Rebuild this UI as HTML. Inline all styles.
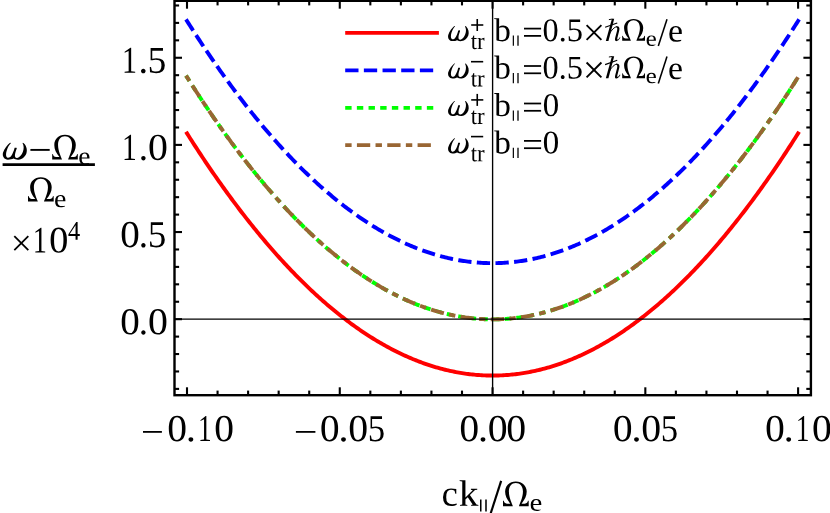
<!DOCTYPE html>
<html><head><meta charset="utf-8"><title>plot</title>
<style>
html,body{margin:0;padding:0;background:#fff;}
body{width:830px;height:513px;overflow:hidden;font-family:"Liberation Serif",serif;}
svg{display:block;}
svg text{font-family:"Liberation Serif",serif;}
</style></head><body>
<svg width="830" height="513" viewBox="0 0 830 513">
<rect width="830" height="513" fill="#fff"/>
<defs><path id="r31" d="M627 80 901 53V0H180V53L455 80V1174L184 1077V1130L575 1352H627Z"/><path id="r2e" d="M377 92Q377 43 342 7Q308 -29 256 -29Q204 -29 170 7Q135 43 135 92Q135 143 170 178Q205 213 256 213Q307 213 342 178Q377 143 377 92Z"/><path id="r35" d="M485 784Q717 784 830 689Q944 594 944 399Q944 197 821 88Q698 -20 469 -20Q279 -20 130 23L119 305H185L230 117Q274 93 336 78Q397 63 453 63Q611 63 686 138Q760 212 760 389Q760 513 728 576Q696 640 626 670Q556 700 438 700Q347 700 260 676H164V1341H844V1188H254V760Q362 784 485 784Z"/><path id="r30" d="M946 676Q946 -20 506 -20Q294 -20 186 158Q78 336 78 676Q78 1009 186 1186Q294 1362 514 1362Q726 1362 836 1188Q946 1013 946 676ZM762 676Q762 998 701 1140Q640 1282 506 1282Q376 1282 319 1148Q262 1014 262 676Q262 336 320 198Q378 59 506 59Q638 59 700 204Q762 350 762 676Z"/><path id="r63" d="M846 57Q797 21 711 0Q625 -20 535 -20Q78 -20 78 477Q78 712 194 838Q311 965 528 965Q663 965 823 934V672H768L725 838Q642 885 526 885Q258 885 258 477Q258 265 340 174Q421 84 592 84Q738 84 846 117Z"/><path id="r6b" d="M344 453 729 868 631 895V940H963V895L846 872L578 598L922 68L1024 45V0H639V45L725 70L467 475L344 340V70L444 45V0H59V45L178 70V1352L39 1376V1421H344Z"/><path id="r65" d="M260 473V455Q260 317 290 240Q321 164 384 124Q448 84 551 84Q605 84 679 93Q753 102 801 113V57Q753 26 670 3Q588 -20 502 -20Q283 -20 182 98Q80 216 80 477Q80 723 183 844Q286 965 477 965Q838 965 838 555V473ZM477 885Q373 885 318 801Q262 717 262 553H664Q664 732 618 808Q572 885 477 885Z"/><path id="r34" d="M810 295V0H638V295H40V428L695 1348H810V438H992V295ZM638 1113H633L153 438H638Z"/><path id="r74" d="M334 -20Q238 -20 190 37Q143 94 143 197V856H20V901L145 940L246 1153H309V940H524V856H309V215Q309 150 338 117Q368 84 416 84Q474 84 557 100V35Q522 11 456 -4Q390 -20 334 -20Z"/><path id="r72" d="M664 965V711H621L563 821Q513 821 444 808Q376 794 326 772V70L487 45V0H41V45L160 70V870L41 895V940H315L324 823Q384 873 486 919Q589 965 649 965Z"/><path id="r62" d="M766 496Q766 680 702 770Q638 860 504 860Q445 860 387 850Q329 839 303 827V82Q387 66 504 66Q642 66 704 174Q766 282 766 496ZM137 1352 0 1376V1421H303V1085Q303 1031 297 887Q397 965 549 965Q741 965 844 848Q946 732 946 496Q946 243 834 112Q721 -20 508 -20Q422 -20 318 -1Q215 18 137 49Z"/></defs>
<path d="M186.01,131.79 L187.00,133.36 L188.53,135.77 L190.06,138.18 L191.58,140.57 L193.11,142.95 L194.64,145.32 L196.17,147.67 L197.69,150.02 L199.22,152.35 L200.75,154.67 L202.28,156.97 L203.81,159.27 L205.33,161.55 L206.86,163.82 L208.39,166.08 L209.92,168.33 L211.44,170.56 L212.97,172.78 L214.50,174.99 L216.03,177.19 L217.56,179.38 L219.08,181.55 L220.61,183.71 L222.14,185.86 L223.67,188.00 L225.19,190.12 L226.72,192.24 L228.25,194.34 L229.78,196.43 L231.30,198.50 L232.83,200.57 L234.36,202.62 L235.89,204.66 L237.42,206.69 L238.94,208.71 L240.47,210.71 L242.00,212.70 L243.53,214.68 L245.05,216.65 L246.58,218.61 L248.11,220.55 L249.64,222.48 L251.17,224.40 L252.69,226.31 L254.22,228.20 L255.75,230.09 L257.28,231.96 L258.80,233.82 L260.33,235.66 L261.86,237.50 L263.39,239.32 L264.92,241.13 L266.44,242.93 L267.97,244.71 L269.50,246.49 L271.03,248.25 L272.55,250.00 L274.08,251.74 L275.61,253.46 L277.14,255.18 L278.66,256.88 L280.19,258.57 L281.72,260.25 L283.25,261.91 L284.78,263.56 L286.30,265.20 L287.83,266.83 L289.36,268.45 L290.89,270.05 L292.41,271.65 L293.94,273.23 L295.47,274.80 L297.00,276.35 L298.53,277.90 L300.05,279.43 L301.58,280.95 L303.11,282.45 L304.64,283.95 L306.16,285.43 L307.69,286.91 L309.22,288.36 L310.75,289.81 L312.28,291.25 L313.80,292.67 L315.33,294.08 L316.86,295.48 L318.39,296.87 L319.91,298.24 L321.44,299.60 L322.97,300.95 L324.50,302.29 L326.03,303.62 L327.55,304.93 L329.08,306.23 L330.61,307.52 L332.14,308.80 L333.66,310.07 L335.19,311.32 L336.72,312.56 L338.25,313.79 L339.77,315.01 L341.30,316.21 L342.83,317.40 L344.36,318.58 L345.89,319.75 L347.41,320.91 L348.94,322.05 L350.47,323.19 L352.00,324.31 L353.52,325.41 L355.05,326.51 L356.58,327.59 L358.11,328.67 L359.64,329.73 L361.16,330.77 L362.69,331.81 L364.22,332.83 L365.75,333.84 L367.27,334.84 L368.80,335.83 L370.33,336.80 L371.86,337.77 L373.39,338.72 L374.91,339.66 L376.44,340.58 L377.97,341.50 L379.50,342.40 L381.02,343.29 L382.55,344.17 L384.08,345.03 L385.61,345.89 L387.14,346.73 L388.66,347.56 L390.19,348.37 L391.72,349.18 L393.25,349.97 L394.77,350.75 L396.30,351.52 L397.83,352.28 L399.36,353.02 L400.88,353.76 L402.41,354.48 L403.94,355.19 L405.47,355.88 L407.00,356.57 L408.52,357.24 L410.05,357.90 L411.58,358.55 L413.11,359.18 L414.63,359.81 L416.16,360.42 L417.69,361.02 L419.22,361.60 L420.75,362.18 L422.27,362.74 L423.80,363.29 L425.33,363.83 L426.86,364.36 L428.38,364.87 L429.91,365.38 L431.44,365.87 L432.97,366.35 L434.50,366.81 L436.02,367.27 L437.55,367.71 L439.08,368.14 L440.61,368.56 L442.13,368.96 L443.66,369.36 L445.19,369.74 L446.72,370.11 L448.25,370.46 L449.77,370.81 L451.30,371.14 L452.83,371.46 L454.36,371.77 L455.88,372.07 L457.41,372.35 L458.94,372.62 L460.47,372.89 L462.00,373.13 L463.52,373.37 L465.05,373.59 L466.58,373.81 L468.11,374.01 L469.63,374.19 L471.16,374.37 L472.69,374.53 L474.22,374.68 L475.74,374.82 L477.27,374.95 L478.80,375.06 L480.33,375.17 L481.86,375.26 L483.38,375.34 L484.91,375.40 L486.44,375.46 L487.97,375.50 L489.49,375.53 L491.02,375.55 L492.55,375.56 L494.08,375.55 L495.61,375.53 L497.13,375.50 L498.66,375.46 L500.19,375.40 L501.72,375.34 L503.24,375.26 L504.77,375.17 L506.30,375.06 L507.83,374.95 L509.36,374.82 L510.88,374.68 L512.41,374.53 L513.94,374.37 L515.47,374.19 L516.99,374.01 L518.52,373.81 L520.05,373.59 L521.58,373.37 L523.11,373.13 L524.63,372.89 L526.16,372.62 L527.69,372.35 L529.22,372.07 L530.74,371.77 L532.27,371.46 L533.80,371.14 L535.33,370.81 L536.85,370.46 L538.38,370.11 L539.91,369.74 L541.44,369.36 L542.97,368.96 L544.49,368.56 L546.02,368.14 L547.55,367.71 L549.08,367.27 L550.60,366.81 L552.13,366.35 L553.66,365.87 L555.19,365.38 L556.72,364.87 L558.24,364.36 L559.77,363.83 L561.30,363.29 L562.83,362.74 L564.35,362.18 L565.88,361.60 L567.41,361.02 L568.94,360.42 L570.47,359.81 L571.99,359.18 L573.52,358.55 L575.05,357.90 L576.58,357.24 L578.10,356.57 L579.63,355.88 L581.16,355.19 L582.69,354.48 L584.22,353.76 L585.74,353.02 L587.27,352.28 L588.80,351.52 L590.33,350.75 L591.85,349.97 L593.38,349.18 L594.91,348.37 L596.44,347.56 L597.96,346.73 L599.49,345.89 L601.02,345.03 L602.55,344.17 L604.08,343.29 L605.60,342.40 L607.13,341.50 L608.66,340.58 L610.19,339.66 L611.71,338.72 L613.24,337.77 L614.77,336.80 L616.30,335.83 L617.83,334.84 L619.35,333.84 L620.88,332.83 L622.41,331.81 L623.94,330.77 L625.46,329.73 L626.99,328.67 L628.52,327.59 L630.05,326.51 L631.58,325.41 L633.10,324.31 L634.63,323.19 L636.16,322.05 L637.69,320.91 L639.21,319.75 L640.74,318.58 L642.27,317.40 L643.80,316.21 L645.33,315.01 L646.85,313.79 L648.38,312.56 L649.91,311.32 L651.44,310.07 L652.96,308.80 L654.49,307.52 L656.02,306.23 L657.55,304.93 L659.07,303.62 L660.60,302.29 L662.13,300.95 L663.66,299.60 L665.19,298.24 L666.71,296.87 L668.24,295.48 L669.77,294.08 L671.30,292.67 L672.82,291.25 L674.35,289.81 L675.88,288.36 L677.41,286.91 L678.94,285.43 L680.46,283.95 L681.99,282.45 L683.52,280.95 L685.05,279.43 L686.57,277.90 L688.10,276.35 L689.63,274.80 L691.16,273.23 L692.69,271.65 L694.21,270.05 L695.74,268.45 L697.27,266.83 L698.80,265.20 L700.32,263.56 L701.85,261.91 L703.38,260.25 L704.91,258.57 L706.44,256.88 L707.96,255.18 L709.49,253.46 L711.02,251.74 L712.55,250.00 L714.07,248.25 L715.60,246.49 L717.13,244.71 L718.66,242.93 L720.18,241.13 L721.71,239.32 L723.24,237.50 L724.77,235.66 L726.30,233.82 L727.82,231.96 L729.35,230.09 L730.88,228.20 L732.41,226.31 L733.93,224.40 L735.46,222.48 L736.99,220.55 L738.52,218.61 L740.05,216.65 L741.57,214.68 L743.10,212.70 L744.63,210.71 L746.16,208.71 L747.68,206.69 L749.21,204.66 L750.74,202.62 L752.27,200.57 L753.80,198.50 L755.32,196.43 L756.85,194.34 L758.38,192.24 L759.91,190.12 L761.43,188.00 L762.96,185.86 L764.49,183.71 L766.02,181.55 L767.55,179.38 L769.07,177.19 L770.60,174.99 L772.13,172.78 L773.66,170.56 L775.18,168.33 L776.71,166.08 L778.24,163.82 L779.77,161.55 L781.29,159.27 L782.82,156.97 L784.35,154.67 L785.88,152.35 L787.41,150.02 L788.93,147.67 L790.46,145.32 L791.99,142.95 L793.52,140.57 L795.04,138.18 L796.57,135.77 L798.10,133.36 L799.09,131.79" fill="none" stroke="#ff0000" stroke-width="3.9000000000000004" stroke-linejoin="round"/>
<path d="M186.01,19.38 L187.00,20.95 L188.53,23.36 L190.06,25.77 L191.58,28.16 L193.11,30.54 L194.64,32.91 L196.17,35.26 L197.69,37.60 L199.22,39.94 L200.75,42.26 L202.28,44.56 L203.81,46.86 L205.33,49.14 L206.86,51.41 L208.39,53.67 L209.92,55.91 L211.44,58.15 L212.97,60.37 L214.50,62.58 L216.03,64.78 L217.56,66.97 L219.08,69.14 L220.61,71.30 L222.14,73.45 L223.67,75.59 L225.19,77.71 L226.72,79.83 L228.25,81.93 L229.78,84.02 L231.30,86.09 L232.83,88.16 L234.36,90.21 L235.89,92.25 L237.42,94.28 L238.94,96.30 L240.47,98.30 L242.00,100.29 L243.53,102.27 L245.05,104.24 L246.58,106.20 L248.11,108.14 L249.64,110.07 L251.17,111.99 L252.69,113.90 L254.22,115.79 L255.75,117.68 L257.28,119.55 L258.80,121.41 L260.33,123.25 L261.86,125.09 L263.39,126.91 L264.92,128.72 L266.44,130.52 L267.97,132.30 L269.50,134.08 L271.03,135.84 L272.55,137.59 L274.08,139.33 L275.61,141.05 L277.14,142.77 L278.66,144.47 L280.19,146.16 L281.72,147.83 L283.25,149.50 L284.78,151.15 L286.30,152.79 L287.83,154.42 L289.36,156.04 L290.89,157.64 L292.41,159.24 L293.94,160.82 L295.47,162.38 L297.00,163.94 L298.53,165.48 L300.05,167.02 L301.58,168.54 L303.11,170.04 L304.64,171.54 L306.16,173.02 L307.69,174.49 L309.22,175.95 L310.75,177.40 L312.28,178.84 L313.80,180.26 L315.33,181.67 L316.86,183.07 L318.39,184.45 L319.91,185.83 L321.44,187.19 L322.97,188.54 L324.50,189.88 L326.03,191.21 L327.55,192.52 L329.08,193.82 L330.61,195.11 L332.14,196.39 L333.66,197.65 L335.19,198.91 L336.72,200.15 L338.25,201.38 L339.77,202.60 L341.30,203.80 L342.83,204.99 L344.36,206.17 L345.89,207.34 L347.41,208.50 L348.94,209.64 L350.47,210.78 L352.00,211.90 L353.52,213.00 L355.05,214.10 L356.58,215.18 L358.11,216.26 L359.64,217.31 L361.16,218.36 L362.69,219.40 L364.22,220.42 L365.75,221.43 L367.27,222.43 L368.80,223.42 L370.33,224.39 L371.86,225.36 L373.39,226.31 L374.91,227.25 L376.44,228.17 L377.97,229.09 L379.50,229.99 L381.02,230.88 L382.55,231.76 L384.08,232.62 L385.61,233.48 L387.14,234.32 L388.66,235.15 L390.19,235.96 L391.72,236.77 L393.25,237.56 L394.77,238.34 L396.30,239.11 L397.83,239.87 L399.36,240.61 L400.88,241.35 L402.41,242.07 L403.94,242.78 L405.47,243.47 L407.00,244.16 L408.52,244.83 L410.05,245.49 L411.58,246.14 L413.11,246.77 L414.63,247.40 L416.16,248.01 L417.69,248.61 L419.22,249.19 L420.75,249.77 L422.27,250.33 L423.80,250.88 L425.33,251.42 L426.86,251.95 L428.38,252.46 L429.91,252.97 L431.44,253.46 L432.97,253.94 L434.50,254.40 L436.02,254.86 L437.55,255.30 L439.08,255.73 L440.61,256.15 L442.13,256.55 L443.66,256.94 L445.19,257.33 L446.72,257.70 L448.25,258.05 L449.77,258.40 L451.30,258.73 L452.83,259.05 L454.36,259.36 L455.88,259.66 L457.41,259.94 L458.94,260.21 L460.47,260.47 L462.00,260.72 L463.52,260.96 L465.05,261.18 L466.58,261.39 L468.11,261.59 L469.63,261.78 L471.16,261.96 L472.69,262.12 L474.22,262.27 L475.74,262.41 L477.27,262.54 L478.80,262.65 L480.33,262.76 L481.86,262.85 L483.38,262.93 L484.91,262.99 L486.44,263.05 L487.97,263.09 L489.49,263.12 L491.02,263.14 L492.55,263.14 L494.08,263.14 L495.61,263.12 L497.13,263.09 L498.66,263.05 L500.19,262.99 L501.72,262.93 L503.24,262.85 L504.77,262.76 L506.30,262.65 L507.83,262.54 L509.36,262.41 L510.88,262.27 L512.41,262.12 L513.94,261.96 L515.47,261.78 L516.99,261.59 L518.52,261.39 L520.05,261.18 L521.58,260.96 L523.11,260.72 L524.63,260.47 L526.16,260.21 L527.69,259.94 L529.22,259.66 L530.74,259.36 L532.27,259.05 L533.80,258.73 L535.33,258.40 L536.85,258.05 L538.38,257.70 L539.91,257.33 L541.44,256.94 L542.97,256.55 L544.49,256.15 L546.02,255.73 L547.55,255.30 L549.08,254.86 L550.60,254.40 L552.13,253.94 L553.66,253.46 L555.19,252.97 L556.72,252.46 L558.24,251.95 L559.77,251.42 L561.30,250.88 L562.83,250.33 L564.35,249.77 L565.88,249.19 L567.41,248.61 L568.94,248.01 L570.47,247.40 L571.99,246.77 L573.52,246.14 L575.05,245.49 L576.58,244.83 L578.10,244.16 L579.63,243.47 L581.16,242.78 L582.69,242.07 L584.22,241.35 L585.74,240.61 L587.27,239.87 L588.80,239.11 L590.33,238.34 L591.85,237.56 L593.38,236.77 L594.91,235.96 L596.44,235.15 L597.96,234.32 L599.49,233.48 L601.02,232.62 L602.55,231.76 L604.08,230.88 L605.60,229.99 L607.13,229.09 L608.66,228.17 L610.19,227.25 L611.71,226.31 L613.24,225.36 L614.77,224.39 L616.30,223.42 L617.83,222.43 L619.35,221.43 L620.88,220.42 L622.41,219.40 L623.94,218.36 L625.46,217.31 L626.99,216.26 L628.52,215.18 L630.05,214.10 L631.58,213.00 L633.10,211.90 L634.63,210.78 L636.16,209.64 L637.69,208.50 L639.21,207.34 L640.74,206.17 L642.27,204.99 L643.80,203.80 L645.33,202.60 L646.85,201.38 L648.38,200.15 L649.91,198.91 L651.44,197.65 L652.96,196.39 L654.49,195.11 L656.02,193.82 L657.55,192.52 L659.07,191.21 L660.60,189.88 L662.13,188.54 L663.66,187.19 L665.19,185.83 L666.71,184.45 L668.24,183.07 L669.77,181.67 L671.30,180.26 L672.82,178.84 L674.35,177.40 L675.88,175.95 L677.41,174.49 L678.94,173.02 L680.46,171.54 L681.99,170.04 L683.52,168.54 L685.05,167.02 L686.57,165.48 L688.10,163.94 L689.63,162.38 L691.16,160.82 L692.69,159.24 L694.21,157.64 L695.74,156.04 L697.27,154.42 L698.80,152.79 L700.32,151.15 L701.85,149.50 L703.38,147.83 L704.91,146.16 L706.44,144.47 L707.96,142.77 L709.49,141.05 L711.02,139.33 L712.55,137.59 L714.07,135.84 L715.60,134.08 L717.13,132.30 L718.66,130.52 L720.18,128.72 L721.71,126.91 L723.24,125.09 L724.77,123.25 L726.30,121.41 L727.82,119.55 L729.35,117.68 L730.88,115.79 L732.41,113.90 L733.93,111.99 L735.46,110.07 L736.99,108.14 L738.52,106.20 L740.05,104.24 L741.57,102.27 L743.10,100.29 L744.63,98.30 L746.16,96.30 L747.68,94.28 L749.21,92.25 L750.74,90.21 L752.27,88.16 L753.80,86.09 L755.32,84.02 L756.85,81.93 L758.38,79.83 L759.91,77.71 L761.43,75.59 L762.96,73.45 L764.49,71.30 L766.02,69.14 L767.55,66.97 L769.07,64.78 L770.60,62.58 L772.13,60.37 L773.66,58.15 L775.18,55.91 L776.71,53.67 L778.24,51.41 L779.77,49.14 L781.29,46.86 L782.82,44.56 L784.35,42.26 L785.88,39.94 L787.41,37.60 L788.93,35.26 L790.46,32.91 L791.99,30.54 L793.52,28.16 L795.04,25.77 L796.57,23.36 L798.10,20.95 L799.09,19.38" fill="none" stroke="#0000ff" stroke-width="3.9000000000000004" stroke-linejoin="round" stroke-dasharray="13.3 5.37"/>
<path d="M186.01,75.59 L187.00,77.15 L188.53,79.57 L190.06,81.97 L191.58,84.36 L193.11,86.74 L194.64,89.11 L196.17,91.47 L197.69,93.81 L199.22,96.14 L200.75,98.46 L202.28,100.77 L203.81,103.06 L205.33,105.34 L206.86,107.62 L208.39,109.87 L209.92,112.12 L211.44,114.35 L212.97,116.58 L214.50,118.79 L216.03,120.98 L217.56,123.17 L219.08,125.34 L220.61,127.51 L222.14,129.66 L223.67,131.79 L225.19,133.92 L226.72,136.03 L228.25,138.13 L229.78,140.22 L231.30,142.30 L232.83,144.36 L234.36,146.42 L235.89,148.46 L237.42,150.48 L238.94,152.50 L240.47,154.50 L242.00,156.50 L243.53,158.48 L245.05,160.44 L246.58,162.40 L248.11,164.34 L249.64,166.28 L251.17,168.19 L252.69,170.10 L254.22,172.00 L255.75,173.88 L257.28,175.75 L258.80,177.61 L260.33,179.46 L261.86,181.29 L263.39,183.11 L264.92,184.92 L266.44,186.72 L267.97,188.51 L269.50,190.28 L271.03,192.05 L272.55,193.80 L274.08,195.53 L275.61,197.26 L277.14,198.97 L278.66,200.67 L280.19,202.36 L281.72,204.04 L283.25,205.71 L284.78,207.36 L286.30,209.00 L287.83,210.63 L289.36,212.24 L290.89,213.85 L292.41,215.44 L293.94,217.02 L295.47,218.59 L297.00,220.15 L298.53,221.69 L300.05,223.22 L301.58,224.74 L303.11,226.25 L304.64,227.75 L306.16,229.23 L307.69,230.70 L309.22,232.16 L310.75,233.61 L312.28,235.04 L313.80,236.46 L315.33,237.87 L316.86,239.27 L318.39,240.66 L319.91,242.03 L321.44,243.40 L322.97,244.75 L324.50,246.09 L326.03,247.41 L327.55,248.73 L329.08,250.03 L330.61,251.32 L332.14,252.59 L333.66,253.86 L335.19,255.11 L336.72,256.35 L338.25,257.58 L339.77,258.80 L341.30,260.01 L342.83,261.20 L344.36,262.38 L345.89,263.55 L347.41,264.70 L348.94,265.85 L350.47,266.98 L352.00,268.10 L353.52,269.21 L355.05,270.31 L356.58,271.39 L358.11,272.46 L359.64,273.52 L361.16,274.57 L362.69,275.60 L364.22,276.63 L365.75,277.64 L367.27,278.64 L368.80,279.62 L370.33,280.60 L371.86,281.56 L373.39,282.51 L374.91,283.45 L376.44,284.38 L377.97,285.29 L379.50,286.19 L381.02,287.08 L382.55,287.96 L384.08,288.83 L385.61,289.68 L387.14,290.52 L388.66,291.35 L390.19,292.17 L391.72,292.97 L393.25,293.77 L394.77,294.55 L396.30,295.32 L397.83,296.07 L399.36,296.82 L400.88,297.55 L402.41,298.27 L403.94,298.98 L405.47,299.68 L407.00,300.36 L408.52,301.03 L410.05,301.69 L411.58,302.34 L413.11,302.98 L414.63,303.60 L416.16,304.21 L417.69,304.81 L419.22,305.40 L420.75,305.97 L422.27,306.54 L423.80,307.09 L425.33,307.63 L426.86,308.15 L428.38,308.67 L429.91,309.17 L431.44,309.66 L432.97,310.14 L434.50,310.61 L436.02,311.06 L437.55,311.50 L439.08,311.93 L440.61,312.35 L442.13,312.76 L443.66,313.15 L445.19,313.53 L446.72,313.90 L448.25,314.26 L449.77,314.60 L451.30,314.94 L452.83,315.26 L454.36,315.57 L455.88,315.86 L457.41,316.15 L458.94,316.42 L460.47,316.68 L462.00,316.93 L463.52,317.16 L465.05,317.39 L466.58,317.60 L468.11,317.80 L469.63,317.99 L471.16,318.16 L472.69,318.33 L474.22,318.48 L475.74,318.62 L477.27,318.74 L478.80,318.86 L480.33,318.96 L481.86,319.05 L483.38,319.13 L484.91,319.20 L486.44,319.25 L487.97,319.30 L489.49,319.33 L491.02,319.34 L492.55,319.35 L494.08,319.34 L495.61,319.33 L497.13,319.30 L498.66,319.25 L500.19,319.20 L501.72,319.13 L503.24,319.05 L504.77,318.96 L506.30,318.86 L507.83,318.74 L509.36,318.62 L510.88,318.48 L512.41,318.33 L513.94,318.16 L515.47,317.99 L516.99,317.80 L518.52,317.60 L520.05,317.39 L521.58,317.16 L523.11,316.93 L524.63,316.68 L526.16,316.42 L527.69,316.15 L529.22,315.86 L530.74,315.57 L532.27,315.26 L533.80,314.94 L535.33,314.60 L536.85,314.26 L538.38,313.90 L539.91,313.53 L541.44,313.15 L542.97,312.76 L544.49,312.35 L546.02,311.93 L547.55,311.50 L549.08,311.06 L550.60,310.61 L552.13,310.14 L553.66,309.66 L555.19,309.17 L556.72,308.67 L558.24,308.15 L559.77,307.63 L561.30,307.09 L562.83,306.54 L564.35,305.97 L565.88,305.40 L567.41,304.81 L568.94,304.21 L570.47,303.60 L571.99,302.98 L573.52,302.34 L575.05,301.69 L576.58,301.03 L578.10,300.36 L579.63,299.68 L581.16,298.98 L582.69,298.27 L584.22,297.55 L585.74,296.82 L587.27,296.07 L588.80,295.32 L590.33,294.55 L591.85,293.77 L593.38,292.97 L594.91,292.17 L596.44,291.35 L597.96,290.52 L599.49,289.68 L601.02,288.83 L602.55,287.96 L604.08,287.08 L605.60,286.19 L607.13,285.29 L608.66,284.38 L610.19,283.45 L611.71,282.51 L613.24,281.56 L614.77,280.60 L616.30,279.62 L617.83,278.64 L619.35,277.64 L620.88,276.63 L622.41,275.60 L623.94,274.57 L625.46,273.52 L626.99,272.46 L628.52,271.39 L630.05,270.31 L631.58,269.21 L633.10,268.10 L634.63,266.98 L636.16,265.85 L637.69,264.70 L639.21,263.55 L640.74,262.38 L642.27,261.20 L643.80,260.01 L645.33,258.80 L646.85,257.58 L648.38,256.35 L649.91,255.11 L651.44,253.86 L652.96,252.59 L654.49,251.32 L656.02,250.03 L657.55,248.73 L659.07,247.41 L660.60,246.09 L662.13,244.75 L663.66,243.40 L665.19,242.03 L666.71,240.66 L668.24,239.27 L669.77,237.87 L671.30,236.46 L672.82,235.04 L674.35,233.61 L675.88,232.16 L677.41,230.70 L678.94,229.23 L680.46,227.75 L681.99,226.25 L683.52,224.74 L685.05,223.22 L686.57,221.69 L688.10,220.15 L689.63,218.59 L691.16,217.02 L692.69,215.44 L694.21,213.85 L695.74,212.24 L697.27,210.63 L698.80,209.00 L700.32,207.36 L701.85,205.71 L703.38,204.04 L704.91,202.36 L706.44,200.67 L707.96,198.97 L709.49,197.26 L711.02,195.53 L712.55,193.80 L714.07,192.05 L715.60,190.28 L717.13,188.51 L718.66,186.72 L720.18,184.92 L721.71,183.11 L723.24,181.29 L724.77,179.46 L726.30,177.61 L727.82,175.75 L729.35,173.88 L730.88,172.00 L732.41,170.10 L733.93,168.19 L735.46,166.28 L736.99,164.34 L738.52,162.40 L740.05,160.44 L741.57,158.48 L743.10,156.50 L744.63,154.50 L746.16,152.50 L747.68,150.48 L749.21,148.46 L750.74,146.42 L752.27,144.36 L753.80,142.30 L755.32,140.22 L756.85,138.13 L758.38,136.03 L759.91,133.92 L761.43,131.79 L762.96,129.66 L764.49,127.51 L766.02,125.34 L767.55,123.17 L769.07,120.98 L770.60,118.79 L772.13,116.58 L773.66,114.35 L775.18,112.12 L776.71,109.87 L778.24,107.62 L779.77,105.34 L781.29,103.06 L782.82,100.77 L784.35,98.46 L785.88,96.14 L787.41,93.81 L788.93,91.47 L790.46,89.11 L791.99,86.74 L793.52,84.36 L795.04,81.97 L796.57,79.57 L798.10,77.15 L799.09,75.59" fill="none" stroke="#00ff00" stroke-width="3.9000000000000004" stroke-linejoin="round" stroke-dasharray="6.4 5.266"/>
<path d="M186.01,75.59 L187.00,77.15 L188.53,79.57 L190.06,81.97 L191.58,84.36 L193.11,86.74 L194.64,89.11 L196.17,91.47 L197.69,93.81 L199.22,96.14 L200.75,98.46 L202.28,100.77 L203.81,103.06 L205.33,105.34 L206.86,107.62 L208.39,109.87 L209.92,112.12 L211.44,114.35 L212.97,116.58 L214.50,118.79 L216.03,120.98 L217.56,123.17 L219.08,125.34 L220.61,127.51 L222.14,129.66 L223.67,131.79 L225.19,133.92 L226.72,136.03 L228.25,138.13 L229.78,140.22 L231.30,142.30 L232.83,144.36 L234.36,146.42 L235.89,148.46 L237.42,150.48 L238.94,152.50 L240.47,154.50 L242.00,156.50 L243.53,158.48 L245.05,160.44 L246.58,162.40 L248.11,164.34 L249.64,166.28 L251.17,168.19 L252.69,170.10 L254.22,172.00 L255.75,173.88 L257.28,175.75 L258.80,177.61 L260.33,179.46 L261.86,181.29 L263.39,183.11 L264.92,184.92 L266.44,186.72 L267.97,188.51 L269.50,190.28 L271.03,192.05 L272.55,193.80 L274.08,195.53 L275.61,197.26 L277.14,198.97 L278.66,200.67 L280.19,202.36 L281.72,204.04 L283.25,205.71 L284.78,207.36 L286.30,209.00 L287.83,210.63 L289.36,212.24 L290.89,213.85 L292.41,215.44 L293.94,217.02 L295.47,218.59 L297.00,220.15 L298.53,221.69 L300.05,223.22 L301.58,224.74 L303.11,226.25 L304.64,227.75 L306.16,229.23 L307.69,230.70 L309.22,232.16 L310.75,233.61 L312.28,235.04 L313.80,236.46 L315.33,237.87 L316.86,239.27 L318.39,240.66 L319.91,242.03 L321.44,243.40 L322.97,244.75 L324.50,246.09 L326.03,247.41 L327.55,248.73 L329.08,250.03 L330.61,251.32 L332.14,252.59 L333.66,253.86 L335.19,255.11 L336.72,256.35 L338.25,257.58 L339.77,258.80 L341.30,260.01 L342.83,261.20 L344.36,262.38 L345.89,263.55 L347.41,264.70 L348.94,265.85 L350.47,266.98 L352.00,268.10 L353.52,269.21 L355.05,270.31 L356.58,271.39 L358.11,272.46 L359.64,273.52 L361.16,274.57 L362.69,275.60 L364.22,276.63 L365.75,277.64 L367.27,278.64 L368.80,279.62 L370.33,280.60 L371.86,281.56 L373.39,282.51 L374.91,283.45 L376.44,284.38 L377.97,285.29 L379.50,286.19 L381.02,287.08 L382.55,287.96 L384.08,288.83 L385.61,289.68 L387.14,290.52 L388.66,291.35 L390.19,292.17 L391.72,292.97 L393.25,293.77 L394.77,294.55 L396.30,295.32 L397.83,296.07 L399.36,296.82 L400.88,297.55 L402.41,298.27 L403.94,298.98 L405.47,299.68 L407.00,300.36 L408.52,301.03 L410.05,301.69 L411.58,302.34 L413.11,302.98 L414.63,303.60 L416.16,304.21 L417.69,304.81 L419.22,305.40 L420.75,305.97 L422.27,306.54 L423.80,307.09 L425.33,307.63 L426.86,308.15 L428.38,308.67 L429.91,309.17 L431.44,309.66 L432.97,310.14 L434.50,310.61 L436.02,311.06 L437.55,311.50 L439.08,311.93 L440.61,312.35 L442.13,312.76 L443.66,313.15 L445.19,313.53 L446.72,313.90 L448.25,314.26 L449.77,314.60 L451.30,314.94 L452.83,315.26 L454.36,315.57 L455.88,315.86 L457.41,316.15 L458.94,316.42 L460.47,316.68 L462.00,316.93 L463.52,317.16 L465.05,317.39 L466.58,317.60 L468.11,317.80 L469.63,317.99 L471.16,318.16 L472.69,318.33 L474.22,318.48 L475.74,318.62 L477.27,318.74 L478.80,318.86 L480.33,318.96 L481.86,319.05 L483.38,319.13 L484.91,319.20 L486.44,319.25 L487.97,319.30 L489.49,319.33 L491.02,319.34 L492.55,319.35 L494.08,319.34 L495.61,319.33 L497.13,319.30 L498.66,319.25 L500.19,319.20 L501.72,319.13 L503.24,319.05 L504.77,318.96 L506.30,318.86 L507.83,318.74 L509.36,318.62 L510.88,318.48 L512.41,318.33 L513.94,318.16 L515.47,317.99 L516.99,317.80 L518.52,317.60 L520.05,317.39 L521.58,317.16 L523.11,316.93 L524.63,316.68 L526.16,316.42 L527.69,316.15 L529.22,315.86 L530.74,315.57 L532.27,315.26 L533.80,314.94 L535.33,314.60 L536.85,314.26 L538.38,313.90 L539.91,313.53 L541.44,313.15 L542.97,312.76 L544.49,312.35 L546.02,311.93 L547.55,311.50 L549.08,311.06 L550.60,310.61 L552.13,310.14 L553.66,309.66 L555.19,309.17 L556.72,308.67 L558.24,308.15 L559.77,307.63 L561.30,307.09 L562.83,306.54 L564.35,305.97 L565.88,305.40 L567.41,304.81 L568.94,304.21 L570.47,303.60 L571.99,302.98 L573.52,302.34 L575.05,301.69 L576.58,301.03 L578.10,300.36 L579.63,299.68 L581.16,298.98 L582.69,298.27 L584.22,297.55 L585.74,296.82 L587.27,296.07 L588.80,295.32 L590.33,294.55 L591.85,293.77 L593.38,292.97 L594.91,292.17 L596.44,291.35 L597.96,290.52 L599.49,289.68 L601.02,288.83 L602.55,287.96 L604.08,287.08 L605.60,286.19 L607.13,285.29 L608.66,284.38 L610.19,283.45 L611.71,282.51 L613.24,281.56 L614.77,280.60 L616.30,279.62 L617.83,278.64 L619.35,277.64 L620.88,276.63 L622.41,275.60 L623.94,274.57 L625.46,273.52 L626.99,272.46 L628.52,271.39 L630.05,270.31 L631.58,269.21 L633.10,268.10 L634.63,266.98 L636.16,265.85 L637.69,264.70 L639.21,263.55 L640.74,262.38 L642.27,261.20 L643.80,260.01 L645.33,258.80 L646.85,257.58 L648.38,256.35 L649.91,255.11 L651.44,253.86 L652.96,252.59 L654.49,251.32 L656.02,250.03 L657.55,248.73 L659.07,247.41 L660.60,246.09 L662.13,244.75 L663.66,243.40 L665.19,242.03 L666.71,240.66 L668.24,239.27 L669.77,237.87 L671.30,236.46 L672.82,235.04 L674.35,233.61 L675.88,232.16 L677.41,230.70 L678.94,229.23 L680.46,227.75 L681.99,226.25 L683.52,224.74 L685.05,223.22 L686.57,221.69 L688.10,220.15 L689.63,218.59 L691.16,217.02 L692.69,215.44 L694.21,213.85 L695.74,212.24 L697.27,210.63 L698.80,209.00 L700.32,207.36 L701.85,205.71 L703.38,204.04 L704.91,202.36 L706.44,200.67 L707.96,198.97 L709.49,197.26 L711.02,195.53 L712.55,193.80 L714.07,192.05 L715.60,190.28 L717.13,188.51 L718.66,186.72 L720.18,184.92 L721.71,183.11 L723.24,181.29 L724.77,179.46 L726.30,177.61 L727.82,175.75 L729.35,173.88 L730.88,172.00 L732.41,170.10 L733.93,168.19 L735.46,166.28 L736.99,164.34 L738.52,162.40 L740.05,160.44 L741.57,158.48 L743.10,156.50 L744.63,154.50 L746.16,152.50 L747.68,150.48 L749.21,148.46 L750.74,146.42 L752.27,144.36 L753.80,142.30 L755.32,140.22 L756.85,138.13 L758.38,136.03 L759.91,133.92 L761.43,131.79 L762.96,129.66 L764.49,127.51 L766.02,125.34 L767.55,123.17 L769.07,120.98 L770.60,118.79 L772.13,116.58 L773.66,114.35 L775.18,112.12 L776.71,109.87 L778.24,107.62 L779.77,105.34 L781.29,103.06 L782.82,100.77 L784.35,98.46 L785.88,96.14 L787.41,93.81 L788.93,91.47 L790.46,89.11 L791.99,86.74 L793.52,84.36 L795.04,81.97 L796.57,79.57 L798.10,77.15 L799.09,75.59" fill="none" stroke="#996633" stroke-width="3.9000000000000004" stroke-linejoin="round" stroke-dasharray="6.41 5.31 13.30 5.31"/>
<line x1="174.50" y1="319.10" x2="810.90" y2="319.10" stroke="#000" stroke-width="1.3" stroke-linecap="butt"/>
<line x1="492.60" y1="0.80" x2="492.60" y2="395.20" stroke="#000" stroke-width="1.35" stroke-linecap="butt"/>
<rect x="174.5" y="0.8" width="636.4" height="394.4" fill="none" stroke="#000" stroke-width="2.4"/>
<line x1="187.00" y1="395.20" x2="187.00" y2="387.30" stroke="#000" stroke-width="2.1" stroke-linecap="butt"/>
<line x1="187.00" y1="0.80" x2="187.00" y2="8.70" stroke="#000" stroke-width="2.1" stroke-linecap="butt"/>
<line x1="217.56" y1="395.20" x2="217.56" y2="390.60" stroke="#000" stroke-width="2.1" stroke-linecap="butt"/>
<line x1="217.56" y1="0.80" x2="217.56" y2="5.40" stroke="#000" stroke-width="2.1" stroke-linecap="butt"/>
<line x1="248.11" y1="395.20" x2="248.11" y2="390.60" stroke="#000" stroke-width="2.1" stroke-linecap="butt"/>
<line x1="248.11" y1="0.80" x2="248.11" y2="5.40" stroke="#000" stroke-width="2.1" stroke-linecap="butt"/>
<line x1="278.66" y1="395.20" x2="278.66" y2="390.60" stroke="#000" stroke-width="2.1" stroke-linecap="butt"/>
<line x1="278.66" y1="0.80" x2="278.66" y2="5.40" stroke="#000" stroke-width="2.1" stroke-linecap="butt"/>
<line x1="309.22" y1="395.20" x2="309.22" y2="390.60" stroke="#000" stroke-width="2.1" stroke-linecap="butt"/>
<line x1="309.22" y1="0.80" x2="309.22" y2="5.40" stroke="#000" stroke-width="2.1" stroke-linecap="butt"/>
<line x1="339.77" y1="395.20" x2="339.77" y2="387.30" stroke="#000" stroke-width="2.1" stroke-linecap="butt"/>
<line x1="339.77" y1="0.80" x2="339.77" y2="8.70" stroke="#000" stroke-width="2.1" stroke-linecap="butt"/>
<line x1="370.33" y1="395.20" x2="370.33" y2="390.60" stroke="#000" stroke-width="2.1" stroke-linecap="butt"/>
<line x1="370.33" y1="0.80" x2="370.33" y2="5.40" stroke="#000" stroke-width="2.1" stroke-linecap="butt"/>
<line x1="400.88" y1="395.20" x2="400.88" y2="390.60" stroke="#000" stroke-width="2.1" stroke-linecap="butt"/>
<line x1="400.88" y1="0.80" x2="400.88" y2="5.40" stroke="#000" stroke-width="2.1" stroke-linecap="butt"/>
<line x1="431.44" y1="395.20" x2="431.44" y2="390.60" stroke="#000" stroke-width="2.1" stroke-linecap="butt"/>
<line x1="431.44" y1="0.80" x2="431.44" y2="5.40" stroke="#000" stroke-width="2.1" stroke-linecap="butt"/>
<line x1="462.00" y1="395.20" x2="462.00" y2="390.60" stroke="#000" stroke-width="2.1" stroke-linecap="butt"/>
<line x1="462.00" y1="0.80" x2="462.00" y2="5.40" stroke="#000" stroke-width="2.1" stroke-linecap="butt"/>
<line x1="492.55" y1="395.20" x2="492.55" y2="387.30" stroke="#000" stroke-width="2.1" stroke-linecap="butt"/>
<line x1="492.55" y1="0.80" x2="492.55" y2="8.70" stroke="#000" stroke-width="2.1" stroke-linecap="butt"/>
<line x1="523.11" y1="395.20" x2="523.11" y2="390.60" stroke="#000" stroke-width="2.1" stroke-linecap="butt"/>
<line x1="523.11" y1="0.80" x2="523.11" y2="5.40" stroke="#000" stroke-width="2.1" stroke-linecap="butt"/>
<line x1="553.66" y1="395.20" x2="553.66" y2="390.60" stroke="#000" stroke-width="2.1" stroke-linecap="butt"/>
<line x1="553.66" y1="0.80" x2="553.66" y2="5.40" stroke="#000" stroke-width="2.1" stroke-linecap="butt"/>
<line x1="584.22" y1="395.20" x2="584.22" y2="390.60" stroke="#000" stroke-width="2.1" stroke-linecap="butt"/>
<line x1="584.22" y1="0.80" x2="584.22" y2="5.40" stroke="#000" stroke-width="2.1" stroke-linecap="butt"/>
<line x1="614.77" y1="395.20" x2="614.77" y2="390.60" stroke="#000" stroke-width="2.1" stroke-linecap="butt"/>
<line x1="614.77" y1="0.80" x2="614.77" y2="5.40" stroke="#000" stroke-width="2.1" stroke-linecap="butt"/>
<line x1="645.33" y1="395.20" x2="645.33" y2="387.30" stroke="#000" stroke-width="2.1" stroke-linecap="butt"/>
<line x1="645.33" y1="0.80" x2="645.33" y2="8.70" stroke="#000" stroke-width="2.1" stroke-linecap="butt"/>
<line x1="675.88" y1="395.20" x2="675.88" y2="390.60" stroke="#000" stroke-width="2.1" stroke-linecap="butt"/>
<line x1="675.88" y1="0.80" x2="675.88" y2="5.40" stroke="#000" stroke-width="2.1" stroke-linecap="butt"/>
<line x1="706.44" y1="395.20" x2="706.44" y2="390.60" stroke="#000" stroke-width="2.1" stroke-linecap="butt"/>
<line x1="706.44" y1="0.80" x2="706.44" y2="5.40" stroke="#000" stroke-width="2.1" stroke-linecap="butt"/>
<line x1="736.99" y1="395.20" x2="736.99" y2="390.60" stroke="#000" stroke-width="2.1" stroke-linecap="butt"/>
<line x1="736.99" y1="0.80" x2="736.99" y2="5.40" stroke="#000" stroke-width="2.1" stroke-linecap="butt"/>
<line x1="767.55" y1="395.20" x2="767.55" y2="390.60" stroke="#000" stroke-width="2.1" stroke-linecap="butt"/>
<line x1="767.55" y1="0.80" x2="767.55" y2="5.40" stroke="#000" stroke-width="2.1" stroke-linecap="butt"/>
<line x1="798.10" y1="395.20" x2="798.10" y2="387.30" stroke="#000" stroke-width="2.1" stroke-linecap="butt"/>
<line x1="798.10" y1="0.80" x2="798.10" y2="8.70" stroke="#000" stroke-width="2.1" stroke-linecap="butt"/>
<line x1="174.50" y1="388.89" x2="179.10" y2="388.89" stroke="#000" stroke-width="2.1" stroke-linecap="butt"/>
<line x1="810.90" y1="388.89" x2="806.30" y2="388.89" stroke="#000" stroke-width="2.1" stroke-linecap="butt"/>
<line x1="174.50" y1="371.46" x2="179.10" y2="371.46" stroke="#000" stroke-width="2.1" stroke-linecap="butt"/>
<line x1="810.90" y1="371.46" x2="806.30" y2="371.46" stroke="#000" stroke-width="2.1" stroke-linecap="butt"/>
<line x1="174.50" y1="354.04" x2="179.10" y2="354.04" stroke="#000" stroke-width="2.1" stroke-linecap="butt"/>
<line x1="810.90" y1="354.04" x2="806.30" y2="354.04" stroke="#000" stroke-width="2.1" stroke-linecap="butt"/>
<line x1="174.50" y1="336.61" x2="179.10" y2="336.61" stroke="#000" stroke-width="2.1" stroke-linecap="butt"/>
<line x1="810.90" y1="336.61" x2="806.30" y2="336.61" stroke="#000" stroke-width="2.1" stroke-linecap="butt"/>
<line x1="174.50" y1="319.18" x2="182.00" y2="319.18" stroke="#000" stroke-width="2.1" stroke-linecap="butt"/>
<line x1="810.90" y1="319.18" x2="803.40" y2="319.18" stroke="#000" stroke-width="2.1" stroke-linecap="butt"/>
<line x1="174.50" y1="301.75" x2="179.10" y2="301.75" stroke="#000" stroke-width="2.1" stroke-linecap="butt"/>
<line x1="810.90" y1="301.75" x2="806.30" y2="301.75" stroke="#000" stroke-width="2.1" stroke-linecap="butt"/>
<line x1="174.50" y1="284.32" x2="179.10" y2="284.32" stroke="#000" stroke-width="2.1" stroke-linecap="butt"/>
<line x1="810.90" y1="284.32" x2="806.30" y2="284.32" stroke="#000" stroke-width="2.1" stroke-linecap="butt"/>
<line x1="174.50" y1="266.90" x2="179.10" y2="266.90" stroke="#000" stroke-width="2.1" stroke-linecap="butt"/>
<line x1="810.90" y1="266.90" x2="806.30" y2="266.90" stroke="#000" stroke-width="2.1" stroke-linecap="butt"/>
<line x1="174.50" y1="249.47" x2="179.10" y2="249.47" stroke="#000" stroke-width="2.1" stroke-linecap="butt"/>
<line x1="810.90" y1="249.47" x2="806.30" y2="249.47" stroke="#000" stroke-width="2.1" stroke-linecap="butt"/>
<line x1="174.50" y1="232.04" x2="182.00" y2="232.04" stroke="#000" stroke-width="2.1" stroke-linecap="butt"/>
<line x1="810.90" y1="232.04" x2="803.40" y2="232.04" stroke="#000" stroke-width="2.1" stroke-linecap="butt"/>
<line x1="174.50" y1="214.61" x2="179.10" y2="214.61" stroke="#000" stroke-width="2.1" stroke-linecap="butt"/>
<line x1="810.90" y1="214.61" x2="806.30" y2="214.61" stroke="#000" stroke-width="2.1" stroke-linecap="butt"/>
<line x1="174.50" y1="197.18" x2="179.10" y2="197.18" stroke="#000" stroke-width="2.1" stroke-linecap="butt"/>
<line x1="810.90" y1="197.18" x2="806.30" y2="197.18" stroke="#000" stroke-width="2.1" stroke-linecap="butt"/>
<line x1="174.50" y1="179.76" x2="179.10" y2="179.76" stroke="#000" stroke-width="2.1" stroke-linecap="butt"/>
<line x1="810.90" y1="179.76" x2="806.30" y2="179.76" stroke="#000" stroke-width="2.1" stroke-linecap="butt"/>
<line x1="174.50" y1="162.33" x2="179.10" y2="162.33" stroke="#000" stroke-width="2.1" stroke-linecap="butt"/>
<line x1="810.90" y1="162.33" x2="806.30" y2="162.33" stroke="#000" stroke-width="2.1" stroke-linecap="butt"/>
<line x1="174.50" y1="144.90" x2="182.00" y2="144.90" stroke="#000" stroke-width="2.1" stroke-linecap="butt"/>
<line x1="810.90" y1="144.90" x2="803.40" y2="144.90" stroke="#000" stroke-width="2.1" stroke-linecap="butt"/>
<line x1="174.50" y1="127.47" x2="179.10" y2="127.47" stroke="#000" stroke-width="2.1" stroke-linecap="butt"/>
<line x1="810.90" y1="127.47" x2="806.30" y2="127.47" stroke="#000" stroke-width="2.1" stroke-linecap="butt"/>
<line x1="174.50" y1="110.04" x2="179.10" y2="110.04" stroke="#000" stroke-width="2.1" stroke-linecap="butt"/>
<line x1="810.90" y1="110.04" x2="806.30" y2="110.04" stroke="#000" stroke-width="2.1" stroke-linecap="butt"/>
<line x1="174.50" y1="92.62" x2="179.10" y2="92.62" stroke="#000" stroke-width="2.1" stroke-linecap="butt"/>
<line x1="810.90" y1="92.62" x2="806.30" y2="92.62" stroke="#000" stroke-width="2.1" stroke-linecap="butt"/>
<line x1="174.50" y1="75.19" x2="179.10" y2="75.19" stroke="#000" stroke-width="2.1" stroke-linecap="butt"/>
<line x1="810.90" y1="75.19" x2="806.30" y2="75.19" stroke="#000" stroke-width="2.1" stroke-linecap="butt"/>
<line x1="174.50" y1="57.76" x2="182.00" y2="57.76" stroke="#000" stroke-width="2.1" stroke-linecap="butt"/>
<line x1="810.90" y1="57.76" x2="803.40" y2="57.76" stroke="#000" stroke-width="2.1" stroke-linecap="butt"/>
<line x1="174.50" y1="40.33" x2="179.10" y2="40.33" stroke="#000" stroke-width="2.1" stroke-linecap="butt"/>
<line x1="810.90" y1="40.33" x2="806.30" y2="40.33" stroke="#000" stroke-width="2.1" stroke-linecap="butt"/>
<line x1="174.50" y1="22.90" x2="179.10" y2="22.90" stroke="#000" stroke-width="2.1" stroke-linecap="butt"/>
<line x1="810.90" y1="22.90" x2="806.30" y2="22.90" stroke="#000" stroke-width="2.1" stroke-linecap="butt"/>
<line x1="174.50" y1="5.48" x2="179.10" y2="5.48" stroke="#000" stroke-width="2.1" stroke-linecap="butt"/>
<line x1="810.90" y1="5.48" x2="806.30" y2="5.48" stroke="#000" stroke-width="2.1" stroke-linecap="butt"/>
<use href="#r31" transform="translate(121.95,72.76) scale(0.01470,-0.01855)"/>
<use href="#r2e" transform="translate(138.43,72.76) scale(0.01901,-0.01855)"/>
<use href="#r35" transform="translate(147.64,72.76) scale(0.01818,-0.01855)"/>
<use href="#r31" transform="translate(122.00,159.90) scale(0.01442,-0.01855)"/>
<use href="#r2e" transform="translate(138.75,159.90) scale(0.01818,-0.01855)"/>
<use href="#r30" transform="translate(147.98,159.90) scale(0.01947,-0.01855)"/>
<use href="#r30" transform="translate(120.21,247.04) scale(0.01912,-0.01855)"/>
<use href="#r2e" transform="translate(138.75,247.04) scale(0.01818,-0.01855)"/>
<use href="#r35" transform="translate(147.87,247.04) scale(0.01794,-0.01855)"/>
<use href="#r30" transform="translate(120.21,334.18) scale(0.01912,-0.01855)"/>
<use href="#r2e" transform="translate(138.75,334.18) scale(0.01818,-0.01855)"/>
<use href="#r30" transform="translate(147.98,334.18) scale(0.01947,-0.01855)"/>
<line x1="143.00" y1="431.90" x2="161.90" y2="431.90" stroke="#000" stroke-width="1.8" stroke-linecap="butt"/>
<use href="#r30" transform="translate(167.30,441.10) scale(0.01924,-0.01855)"/>
<use href="#r2e" transform="translate(185.82,441.10) scale(0.01983,-0.01855)"/>
<use href="#r31" transform="translate(198.00,441.10) scale(0.01331,-0.01855)"/>
<use href="#r30" transform="translate(214.19,441.10) scale(0.01935,-0.01855)"/>
<line x1="295.90" y1="431.90" x2="315.40" y2="431.90" stroke="#000" stroke-width="1.8" stroke-linecap="butt"/>
<use href="#r30" transform="translate(319.90,441.10) scale(0.01924,-0.01855)"/>
<use href="#r2e" transform="translate(338.42,441.10) scale(0.01983,-0.01855)"/>
<use href="#r30" transform="translate(348.29,441.10) scale(0.01935,-0.01855)"/>
<use href="#r35" transform="translate(367.80,441.10) scale(0.01685,-0.01855)"/>
<use href="#r30" transform="translate(459.40,441.10) scale(0.01924,-0.01855)"/>
<use href="#r2e" transform="translate(477.92,441.10) scale(0.01983,-0.01855)"/>
<use href="#r30" transform="translate(487.79,441.10) scale(0.01935,-0.01855)"/>
<use href="#r30" transform="translate(506.29,441.10) scale(0.01935,-0.01855)"/>
<use href="#r30" transform="translate(612.90,441.10) scale(0.01924,-0.01855)"/>
<use href="#r2e" transform="translate(631.42,441.10) scale(0.01983,-0.01855)"/>
<use href="#r30" transform="translate(641.29,441.10) scale(0.01935,-0.01855)"/>
<use href="#r35" transform="translate(660.80,441.10) scale(0.01685,-0.01855)"/>
<use href="#r30" transform="translate(765.10,441.10) scale(0.01924,-0.01855)"/>
<use href="#r2e" transform="translate(783.62,441.10) scale(0.01983,-0.01855)"/>
<use href="#r31" transform="translate(795.80,441.10) scale(0.01331,-0.01855)"/>
<use href="#r30" transform="translate(811.99,441.10) scale(0.01935,-0.01855)"/>
<use href="#r63" transform="translate(441.61,505.70) scale(0.01784,-0.01792)"/>
<use href="#r6b" transform="translate(458.86,505.70) scale(0.01909,-0.01792)"/>
<line x1="480.75" y1="499.50" x2="480.75" y2="511.50" stroke="#000" stroke-width="1.55" stroke-linecap="butt"/>
<line x1="486.00" y1="499.50" x2="486.00" y2="511.50" stroke="#000" stroke-width="1.55" stroke-linecap="butt"/>
<line x1="490.65" y1="513.50" x2="501.15" y2="480.80" stroke="#000" stroke-width="2.15" stroke-linecap="butt"/>
<path d="M 503.00,506.30 L 503.00,500.95 L 503.70,500.59 C 504.06,502.32 504.94,503.56 506.99,503.68 L 510.28,503.68 C 506.99,499.64 505.11,496.07 505.11,491.61 C 505.11,485.96 509.34,481.50 515.79,481.50 C 522.36,481.50 526.71,485.96 526.71,491.61 C 526.71,496.07 524.83,499.64 521.54,503.68 L 524.83,503.68 C 526.82,503.56 527.64,502.32 528.00,500.59 L 528.70,500.95 L 528.70,506.30 L 518.96,506.30 C 519.61,503.80 522.95,497.85 522.95,491.61 C 522.95,486.26 519.90,482.99 515.79,482.99 C 511.68,482.99 508.87,486.26 508.87,491.61 C 508.87,497.85 512.15,503.80 512.86,506.30 Z" fill="#000"/>
<use href="#r65" transform="translate(529.58,510.80) scale(0.01398,-0.01221)"/>
<path d="M 10.04,142.87 C 7.50,144.97 4.26,148.67 2.96,152.78 C 2.10,156.48 4.26,159.64 7.93,159.64 C 10.30,159.64 12.25,159.15 13.41,158.57 C 14.84,159.48 16.78,159.81 18.72,159.64 C 22.18,159.35 25.07,156.68 26.37,153.39 C 27.45,150.52 26.80,145.99 23.69,143.20 L 22.91,142.87 L 22.57,143.36 C 23.91,145.58 24.04,148.87 22.91,151.75 C 21.83,154.63 19.59,157.59 17.21,158.00 C 15.70,158.20 14.75,157.09 14.92,155.04 C 15.14,152.78 16.00,150.31 16.78,148.38 L 16.52,147.72 L 14.62,147.80 C 13.97,150.52 12.68,153.89 11.17,155.94 C 10.09,157.42 8.36,158.08 7.19,157.42 C 5.64,156.44 5.85,152.98 6.93,149.90 C 7.80,147.43 9.31,144.76 10.99,143.12 Z" fill="#000"/>
<line x1="30.40" y1="149.90" x2="49.70" y2="149.90" stroke="#000" stroke-width="1.9" stroke-linecap="butt"/>
<path d="M 52.20,159.60 L 52.20,154.25 L 52.90,153.89 C 53.25,155.62 54.13,156.86 56.17,156.98 L 59.45,156.98 C 56.17,152.94 54.30,149.37 54.30,144.91 C 54.30,139.26 58.51,134.80 64.94,134.80 C 71.49,134.80 75.81,139.26 75.81,144.91 C 75.81,149.37 73.94,152.94 70.67,156.98 L 73.94,156.98 C 75.93,156.86 76.75,155.62 77.10,153.89 L 77.80,154.25 L 77.80,159.60 L 68.10,159.60 C 68.74,157.10 72.07,151.15 72.07,144.91 C 72.07,139.56 69.03,136.29 64.94,136.29 C 60.85,136.29 58.04,139.56 58.04,144.91 C 58.04,151.15 61.32,157.10 62.02,159.60 Z" fill="#000"/>
<use href="#r65" transform="translate(78.22,164.50) scale(0.01346,-0.01250)"/>
<line x1="2.60" y1="164.60" x2="94.90" y2="164.60" stroke="#000" stroke-width="2.6" stroke-linecap="butt"/>
<path d="M 28.00,201.60 L 28.00,196.33 L 28.70,195.98 C 29.06,197.68 29.94,198.91 31.99,199.03 L 35.28,199.03 C 31.99,195.05 30.11,191.54 30.11,187.15 C 30.11,181.59 34.34,177.20 40.79,177.20 C 47.36,177.20 51.71,181.59 51.71,187.15 C 51.71,191.54 49.83,195.05 46.54,199.03 L 49.83,199.03 C 51.82,198.91 52.64,197.68 53.00,195.98 L 53.70,196.33 L 53.70,201.60 L 43.96,201.60 C 44.61,199.14 47.95,193.29 47.95,187.15 C 47.95,181.88 44.90,178.66 40.79,178.66 C 36.68,178.66 33.87,181.88 33.87,187.15 C 33.87,193.29 37.15,199.14 37.86,201.60 Z" fill="#000"/>
<use href="#r65" transform="translate(54.01,207.10) scale(0.01359,-0.01250)"/>
<line x1="14.30" y1="236.10" x2="28.30" y2="250.10" stroke="#000" stroke-width="1.8" stroke-linecap="butt"/>
<line x1="14.30" y1="250.10" x2="28.30" y2="236.10" stroke="#000" stroke-width="1.8" stroke-linecap="butt"/>
<use href="#r31" transform="translate(32.83,252.50) scale(0.01373,-0.01831)"/>
<use href="#r30" transform="translate(49.14,252.50) scale(0.01878,-0.01831)"/>
<use href="#r34" transform="translate(67.92,239.80) scale(0.01197,-0.01313)"/>
<line x1="345.2" y1="32.90" x2="438.9" y2="32.90" stroke="#ff0000" stroke-width="3.7"/>
<path d="M 454.30,26.00 C 452.11,27.89 449.33,31.22 448.22,34.93 C 447.48,38.26 449.33,41.11 452.48,41.11 C 454.52,41.11 456.19,40.67 457.19,40.15 C 458.41,40.96 460.07,41.26 461.74,41.11 C 464.70,40.85 467.19,38.44 468.30,35.48 C 469.22,32.89 468.67,28.81 466.00,26.30 L 465.33,26.00 L 465.04,26.44 C 466.19,28.44 466.30,31.41 465.33,34.00 C 464.41,36.59 462.48,39.26 460.44,39.63 C 459.15,39.81 458.33,38.81 458.48,36.96 C 458.67,34.93 459.41,32.70 460.07,30.96 L 459.85,30.37 L 458.22,30.44 C 457.67,32.89 456.56,35.93 455.26,37.78 C 454.33,39.11 452.85,39.70 451.85,39.11 C 450.52,38.22 450.70,35.11 451.63,32.33 C 452.37,30.11 453.67,27.70 455.11,26.22 Z" fill="#000"/>
<use href="#r74" transform="translate(470.78,49.00) scale(0.01105,-0.01167)"/>
<use href="#r72" transform="translate(477.06,49.00) scale(0.01105,-0.01167)"/>
<line x1="471.20" y1="25.00" x2="483.30" y2="25.00" stroke="#000" stroke-width="1.6" stroke-linecap="butt"/>
<line x1="477.25" y1="19.00" x2="477.25" y2="31.00" stroke="#000" stroke-width="1.6" stroke-linecap="butt"/>
<use href="#r62" transform="translate(494.20,41.10) scale(0.01628,-0.01611)"/>
<line x1="513.35" y1="35.50" x2="513.35" y2="45.80" stroke="#000" stroke-width="1.2" stroke-linecap="butt"/>
<line x1="518.00" y1="35.50" x2="518.00" y2="45.80" stroke="#000" stroke-width="1.3" stroke-linecap="butt"/>
<line x1="524.00" y1="28.60" x2="541.10" y2="28.60" stroke="#000" stroke-width="1.75" stroke-linecap="butt"/>
<line x1="524.00" y1="35.90" x2="541.10" y2="35.90" stroke="#000" stroke-width="1.75" stroke-linecap="butt"/>
<use href="#r30" transform="translate(542.47,41.10) scale(0.01582,-0.01611)"/>
<use href="#r2e" transform="translate(558.67,41.10) scale(0.01582,-0.01611)"/>
<use href="#r35" transform="translate(566.77,41.10) scale(0.01582,-0.01611)"/>
<line x1="586.60" y1="25.10" x2="601.40" y2="39.90" stroke="#000" stroke-width="1.9" stroke-linecap="butt"/>
<line x1="586.60" y1="39.90" x2="601.40" y2="25.10" stroke="#000" stroke-width="1.9" stroke-linecap="butt"/>
<path d="M 611.94,18.84 L 614.20,18.73 L 608.44,40.88 L 605.84,40.88 Z" fill="#000"/>
<path d="M 608.89,19.63 L 612.28,19.07" stroke="#000" stroke-width="0.96" fill="none"/>
<path d="M 605.11,27.20 L 617.25,22.91" stroke="#000" stroke-width="1.13" fill="none"/>
<path d="M 609.23,34.49 C 611.32,29.97 614.71,26.58 617.14,26.75" stroke="#000" stroke-width="0.96" fill="none"/>
<path d="M 616.12,26.47 C 618.95,25.85 619.97,27.71 619.23,30.54 L 617.37,37.88 C 617.03,39.41 617.37,39.86 618.05,39.41 C 618.72,38.84 619.29,38.05 619.85,37.15 L 620.42,37.60 C 618.95,40.14 617.25,41.55 615.84,41.10 C 614.71,40.71 614.88,39.01 615.33,37.32 L 617.03,30.82 C 617.54,28.56 617.37,27.54 616.12,27.32 Z" fill="#000"/>
<path d="M 622.20,40.80 L 622.20,36.09 L 622.82,35.78 C 623.14,37.30 623.92,38.40 625.74,38.50 L 628.65,38.50 C 625.74,34.94 624.07,31.81 624.07,27.89 C 624.07,22.92 627.82,19.00 633.55,19.00 C 639.38,19.00 643.23,22.92 643.23,27.89 C 643.23,31.81 641.56,34.94 638.65,38.50 L 641.56,38.50 C 643.33,38.40 644.06,37.30 644.38,35.78 L 645.00,36.09 L 645.00,40.80 L 636.36,40.80 C 636.93,38.60 639.90,33.38 639.90,27.89 C 639.90,23.18 637.19,20.31 633.55,20.31 C 629.90,20.31 627.41,23.18 627.41,27.89 C 627.41,33.38 630.32,38.60 630.95,40.80 Z" fill="#000"/>
<use href="#r65" transform="translate(645.62,45.70) scale(0.01227,-0.01064)"/>
<line x1="658.30" y1="46.10" x2="667.00" y2="19.20" stroke="#000" stroke-width="1.55" stroke-linecap="butt"/>
<use href="#r65" transform="translate(667.98,41.55) scale(0.01649,-0.01602)"/>
<line x1="345.2" y1="70.30" x2="435.2" y2="70.30" stroke="#0000ff" stroke-width="3.7" stroke-dasharray="13.3 5.37"/>
<path d="M 454.30,63.40 C 452.11,65.29 449.33,68.62 448.22,72.33 C 447.48,75.66 449.33,78.51 452.48,78.51 C 454.52,78.51 456.19,78.07 457.19,77.55 C 458.41,78.36 460.07,78.66 461.74,78.51 C 464.70,78.25 467.19,75.84 468.30,72.88 C 469.22,70.29 468.67,66.21 466.00,63.70 L 465.33,63.40 L 465.04,63.84 C 466.19,65.84 466.30,68.81 465.33,71.40 C 464.41,73.99 462.48,76.66 460.44,77.03 C 459.15,77.21 458.33,76.21 458.48,74.36 C 458.67,72.33 459.41,70.10 460.07,68.36 L 459.85,67.77 L 458.22,67.84 C 457.67,70.29 456.56,73.33 455.26,75.18 C 454.33,76.51 452.85,77.10 451.85,76.51 C 450.52,75.62 450.70,72.51 451.63,69.73 C 452.37,67.51 453.67,65.10 455.11,63.62 Z" fill="#000"/>
<use href="#r74" transform="translate(470.78,86.40) scale(0.01105,-0.01167)"/>
<use href="#r72" transform="translate(477.06,86.40) scale(0.01105,-0.01167)"/>
<line x1="471.00" y1="61.70" x2="483.20" y2="61.70" stroke="#000" stroke-width="1.6" stroke-linecap="butt"/>
<use href="#r62" transform="translate(494.20,78.50) scale(0.01628,-0.01611)"/>
<line x1="513.35" y1="72.90" x2="513.35" y2="83.20" stroke="#000" stroke-width="1.2" stroke-linecap="butt"/>
<line x1="518.00" y1="72.90" x2="518.00" y2="83.20" stroke="#000" stroke-width="1.3" stroke-linecap="butt"/>
<line x1="524.00" y1="66.00" x2="541.10" y2="66.00" stroke="#000" stroke-width="1.75" stroke-linecap="butt"/>
<line x1="524.00" y1="73.30" x2="541.10" y2="73.30" stroke="#000" stroke-width="1.75" stroke-linecap="butt"/>
<use href="#r30" transform="translate(542.47,78.50) scale(0.01582,-0.01611)"/>
<use href="#r2e" transform="translate(558.67,78.50) scale(0.01582,-0.01611)"/>
<use href="#r35" transform="translate(566.77,78.50) scale(0.01582,-0.01611)"/>
<line x1="586.60" y1="62.50" x2="601.40" y2="77.30" stroke="#000" stroke-width="1.9" stroke-linecap="butt"/>
<line x1="586.60" y1="77.30" x2="601.40" y2="62.50" stroke="#000" stroke-width="1.9" stroke-linecap="butt"/>
<path d="M 611.94,56.24 L 614.20,56.13 L 608.44,78.28 L 605.84,78.28 Z" fill="#000"/>
<path d="M 608.89,57.03 L 612.28,56.47" stroke="#000" stroke-width="0.96" fill="none"/>
<path d="M 605.11,64.60 L 617.25,60.31" stroke="#000" stroke-width="1.13" fill="none"/>
<path d="M 609.23,71.89 C 611.32,67.37 614.71,63.98 617.14,64.15" stroke="#000" stroke-width="0.96" fill="none"/>
<path d="M 616.12,63.87 C 618.95,63.25 619.97,65.11 619.23,67.94 L 617.37,75.28 C 617.03,76.81 617.37,77.26 618.05,76.81 C 618.72,76.24 619.29,75.45 619.85,74.55 L 620.42,75.00 C 618.95,77.54 617.25,78.95 615.84,78.50 C 614.71,78.11 614.88,76.41 615.33,74.72 L 617.03,68.22 C 617.54,65.96 617.37,64.94 616.12,64.72 Z" fill="#000"/>
<path d="M 622.20,78.20 L 622.20,73.49 L 622.82,73.18 C 623.14,74.70 623.92,75.80 625.74,75.90 L 628.65,75.90 C 625.74,72.34 624.07,69.21 624.07,65.29 C 624.07,60.32 627.82,56.40 633.55,56.40 C 639.38,56.40 643.23,60.32 643.23,65.29 C 643.23,69.21 641.56,72.34 638.65,75.90 L 641.56,75.90 C 643.33,75.80 644.06,74.70 644.38,73.18 L 645.00,73.49 L 645.00,78.20 L 636.36,78.20 C 636.93,76.00 639.90,70.78 639.90,65.29 C 639.90,60.58 637.19,57.71 633.55,57.71 C 629.90,57.71 627.41,60.58 627.41,65.29 C 627.41,70.78 630.32,76.00 630.95,78.20 Z" fill="#000"/>
<use href="#r65" transform="translate(645.62,83.10) scale(0.01227,-0.01064)"/>
<line x1="658.30" y1="83.50" x2="667.00" y2="56.60" stroke="#000" stroke-width="1.55" stroke-linecap="butt"/>
<use href="#r65" transform="translate(667.98,78.95) scale(0.01649,-0.01602)"/>
<line x1="345.2" y1="107.80" x2="435.2" y2="107.80" stroke="#00ff00" stroke-width="3.7" stroke-dasharray="6.4 5.266"/>
<path d="M 454.30,100.90 C 452.11,102.79 449.33,106.12 448.22,109.83 C 447.48,113.16 449.33,116.01 452.48,116.01 C 454.52,116.01 456.19,115.57 457.19,115.05 C 458.41,115.86 460.07,116.16 461.74,116.01 C 464.70,115.75 467.19,113.34 468.30,110.38 C 469.22,107.79 468.67,103.71 466.00,101.20 L 465.33,100.90 L 465.04,101.34 C 466.19,103.34 466.30,106.31 465.33,108.90 C 464.41,111.49 462.48,114.16 460.44,114.53 C 459.15,114.71 458.33,113.71 458.48,111.86 C 458.67,109.83 459.41,107.60 460.07,105.86 L 459.85,105.27 L 458.22,105.34 C 457.67,107.79 456.56,110.83 455.26,112.68 C 454.33,114.01 452.85,114.60 451.85,114.01 C 450.52,113.12 450.70,110.01 451.63,107.23 C 452.37,105.01 453.67,102.60 455.11,101.12 Z" fill="#000"/>
<use href="#r74" transform="translate(470.78,123.90) scale(0.01105,-0.01167)"/>
<use href="#r72" transform="translate(477.06,123.90) scale(0.01105,-0.01167)"/>
<line x1="471.20" y1="99.90" x2="483.30" y2="99.90" stroke="#000" stroke-width="1.6" stroke-linecap="butt"/>
<line x1="477.25" y1="93.90" x2="477.25" y2="105.90" stroke="#000" stroke-width="1.6" stroke-linecap="butt"/>
<use href="#r62" transform="translate(494.20,116.00) scale(0.01628,-0.01611)"/>
<line x1="513.35" y1="110.40" x2="513.35" y2="120.70" stroke="#000" stroke-width="1.2" stroke-linecap="butt"/>
<line x1="518.00" y1="110.40" x2="518.00" y2="120.70" stroke="#000" stroke-width="1.3" stroke-linecap="butt"/>
<line x1="524.00" y1="103.50" x2="541.10" y2="103.50" stroke="#000" stroke-width="1.75" stroke-linecap="butt"/>
<line x1="524.00" y1="110.80" x2="541.10" y2="110.80" stroke="#000" stroke-width="1.75" stroke-linecap="butt"/>
<use href="#r30" transform="translate(542.63,116.00) scale(0.01624,-0.01611)"/>
<line x1="345.2" y1="145.20" x2="435.2" y2="145.20" stroke="#996633" stroke-width="3.7" stroke-dasharray="6.41 5.31 13.30 5.31"/>
<path d="M 454.30,138.30 C 452.11,140.19 449.33,143.52 448.22,147.23 C 447.48,150.56 449.33,153.41 452.48,153.41 C 454.52,153.41 456.19,152.97 457.19,152.45 C 458.41,153.26 460.07,153.56 461.74,153.41 C 464.70,153.15 467.19,150.74 468.30,147.78 C 469.22,145.19 468.67,141.11 466.00,138.60 L 465.33,138.30 L 465.04,138.74 C 466.19,140.74 466.30,143.71 465.33,146.30 C 464.41,148.89 462.48,151.56 460.44,151.93 C 459.15,152.11 458.33,151.11 458.48,149.26 C 458.67,147.23 459.41,145.00 460.07,143.26 L 459.85,142.67 L 458.22,142.74 C 457.67,145.19 456.56,148.23 455.26,150.08 C 454.33,151.41 452.85,152.00 451.85,151.41 C 450.52,150.52 450.70,147.41 451.63,144.63 C 452.37,142.41 453.67,140.00 455.11,138.52 Z" fill="#000"/>
<use href="#r74" transform="translate(470.78,161.30) scale(0.01105,-0.01167)"/>
<use href="#r72" transform="translate(477.06,161.30) scale(0.01105,-0.01167)"/>
<line x1="471.00" y1="136.60" x2="483.20" y2="136.60" stroke="#000" stroke-width="1.6" stroke-linecap="butt"/>
<use href="#r62" transform="translate(494.20,153.40) scale(0.01628,-0.01611)"/>
<line x1="513.35" y1="147.80" x2="513.35" y2="158.10" stroke="#000" stroke-width="1.2" stroke-linecap="butt"/>
<line x1="518.00" y1="147.80" x2="518.00" y2="158.10" stroke="#000" stroke-width="1.3" stroke-linecap="butt"/>
<line x1="524.00" y1="140.90" x2="541.10" y2="140.90" stroke="#000" stroke-width="1.75" stroke-linecap="butt"/>
<line x1="524.00" y1="148.20" x2="541.10" y2="148.20" stroke="#000" stroke-width="1.75" stroke-linecap="butt"/>
<use href="#r30" transform="translate(542.63,153.40) scale(0.01624,-0.01611)"/>
</svg>
</body></html>
